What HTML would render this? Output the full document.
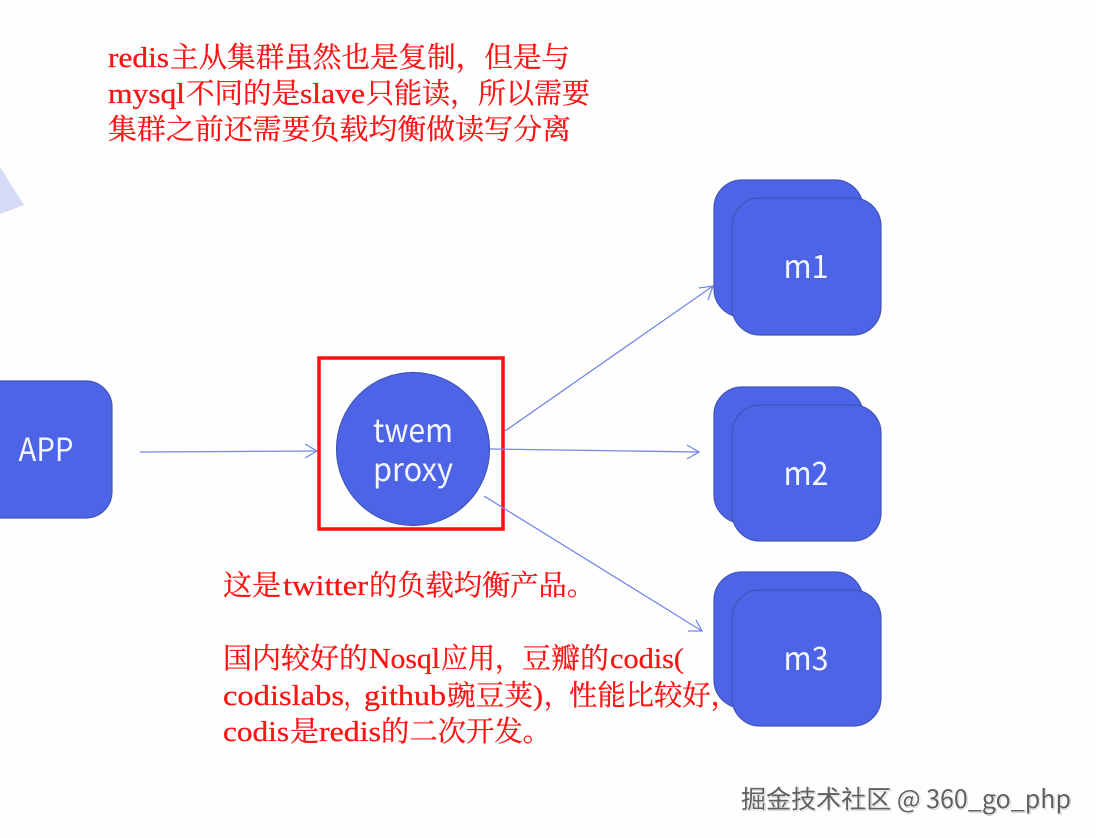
<!DOCTYPE html>
<html>
<head>
<meta charset="utf-8">
<style>
html,body{margin:0;padding:0;background:#fefefe;}
svg{display:block;}
.r{font-family:"Liberation Serif","Noto Serif CJK SC",serif;font-size:28.5px;fill:#fb1414;stroke:#fb1414;stroke-width:.3;}
.n{font-family:"Noto Sans CJK SC","Liberation Sans",sans-serif;font-size:32px;fill:#f4f6ff;text-anchor:middle;}
.w{font-family:"Noto Sans CJK SC","Liberation Sans",sans-serif;font-size:25px;fill:#5f5f5f;}
.b{fill:#4d64e6;stroke:#4256b8;stroke-width:1.2;}
.l{stroke:#7486e6;stroke-width:1.3;fill:none;}
</style>
</head>
<body>
<svg width="1096" height="838" viewBox="0 0 1096 838" xmlns="http://www.w3.org/2000/svg">
<rect width="1096" height="838" fill="#fefefe"/>
<polygon points="0,167 24,205 0,214" fill="#d5dbf7"/>

<text class="r" x="108" y="67" textLength="61" lengthAdjust="spacingAndGlyphs">redis</text>
<text class="r" x="170" y="67" textLength="400" lengthAdjust="spacingAndGlyphs">主从集群虽然也是复制，但是与</text>
<text class="r" x="108" y="103" textLength="77" lengthAdjust="spacingAndGlyphs">mysql</text>
<text class="r" x="186" y="103" textLength="114" lengthAdjust="spacingAndGlyphs">不同的是</text>
<text class="r" x="300" y="103" textLength="65" lengthAdjust="spacingAndGlyphs">slave</text>
<text class="r" x="366" y="103" textLength="224" lengthAdjust="spacingAndGlyphs">只能读，所以需要</text>
<text class="r" x="108" y="139" textLength="463" lengthAdjust="spacingAndGlyphs">集群之前还需要负载均衡做读写分离</text>

<text class="r" x="223" y="595" textLength="58" lengthAdjust="spacingAndGlyphs">这是</text>
<text class="r" x="283" y="595" textLength="85" lengthAdjust="spacingAndGlyphs">twitter</text>
<text class="r" x="369" y="595" textLength="226" lengthAdjust="spacingAndGlyphs">的负载均衡产品。</text>

<text class="r" x="223" y="668" textLength="145" lengthAdjust="spacingAndGlyphs">国内较好的</text>
<text class="r" x="369" y="668" textLength="71" lengthAdjust="spacingAndGlyphs">Nosql</text>
<text class="r" x="441" y="668" textLength="81" lengthAdjust="spacingAndGlyphs">应用，</text>
<text class="r" x="522" y="668" textLength="87" lengthAdjust="spacingAndGlyphs">豆瓣的</text>
<text class="r" x="610" y="668" textLength="74" lengthAdjust="spacingAndGlyphs">codis(</text>

<text class="r" x="223" y="705" textLength="121" lengthAdjust="spacingAndGlyphs">codislabs</text>
<text class="r" x="344" y="705" textLength="20" lengthAdjust="spacingAndGlyphs">，</text>
<text class="r" x="364" y="705" textLength="82" lengthAdjust="spacingAndGlyphs">github</text>
<text class="r" x="447" y="705" textLength="86" lengthAdjust="spacingAndGlyphs">豌豆荚</text>
<text class="r" x="533" y="705" textLength="10" lengthAdjust="spacingAndGlyphs">)</text>
<text class="r" x="544" y="705" textLength="25" lengthAdjust="spacingAndGlyphs">，</text>
<text class="r" x="569" y="705" textLength="170" lengthAdjust="spacingAndGlyphs">性能比较好，</text>

<text class="r" x="223" y="741" textLength="66" lengthAdjust="spacingAndGlyphs">codis</text>
<text class="r" x="290" y="741" textLength="29" lengthAdjust="spacingAndGlyphs">是</text>
<text class="r" x="319" y="741" textLength="62" lengthAdjust="spacingAndGlyphs">redis</text>
<text class="r" x="381" y="741" textLength="170" lengthAdjust="spacingAndGlyphs">的二次开发。</text>

<rect class="b" x="-40" y="381" width="152" height="137" rx="26"/>
<text class="n" x="46" y="461" textLength="55" lengthAdjust="spacingAndGlyphs">APP</text>

<line class="l" x1="140" y1="452" x2="317" y2="451"/>
<polyline class="l" points="305,444 317,451 305,458"/>

<rect x="319" y="358" width="184" height="171" fill="none" stroke="#fb0f0f" stroke-width="3.5"/>
<circle class="b" cx="413" cy="449" r="76.5"/>
<text class="n" x="413" y="442" textLength="80" lengthAdjust="spacingAndGlyphs">twem</text>
<text class="n" x="413" y="481" textLength="80" lengthAdjust="spacingAndGlyphs">proxy</text>

<line class="l" x1="505" y1="431" x2="713" y2="286"/>
<polyline class="l" points="699,288 713,286 708,300"/>
<line class="l" x1="490" y1="449" x2="699" y2="452"/>
<polyline class="l" points="687,445 699,452 687,459"/>
<line class="l" x1="484" y1="496" x2="702" y2="631"/>
<polyline class="l" points="688,631 702,631 696,620"/>

<rect class="b" x="714" y="180" width="149" height="137" rx="28"/>
<rect class="b" x="732" y="198" width="149" height="137" rx="28"/>
<text class="n" x="806" y="278" textLength="45" lengthAdjust="spacingAndGlyphs">m1</text>

<rect class="b" x="714" y="387" width="149" height="136" rx="28"/>
<rect class="b" x="732" y="405" width="149" height="136" rx="28"/>
<text class="n" x="806" y="485" textLength="45" lengthAdjust="spacingAndGlyphs">m2</text>

<rect class="b" x="714" y="572" width="149" height="136" rx="28"/>
<rect class="b" x="732" y="590" width="149" height="136" rx="28"/>
<text class="n" x="806" y="670" textLength="45" lengthAdjust="spacingAndGlyphs">m3</text>

<text class="w" x="742" y="809" textLength="330" lengthAdjust="spacingAndGlyphs" style="fill:#fff;stroke:#bbb;stroke-width:.5">掘金技术社区 @ 360_go_php</text>
<text class="w" x="741" y="808" textLength="330" lengthAdjust="spacingAndGlyphs">掘金技术社区 @ 360_go_php</text>
</svg>
</body>
</html>
